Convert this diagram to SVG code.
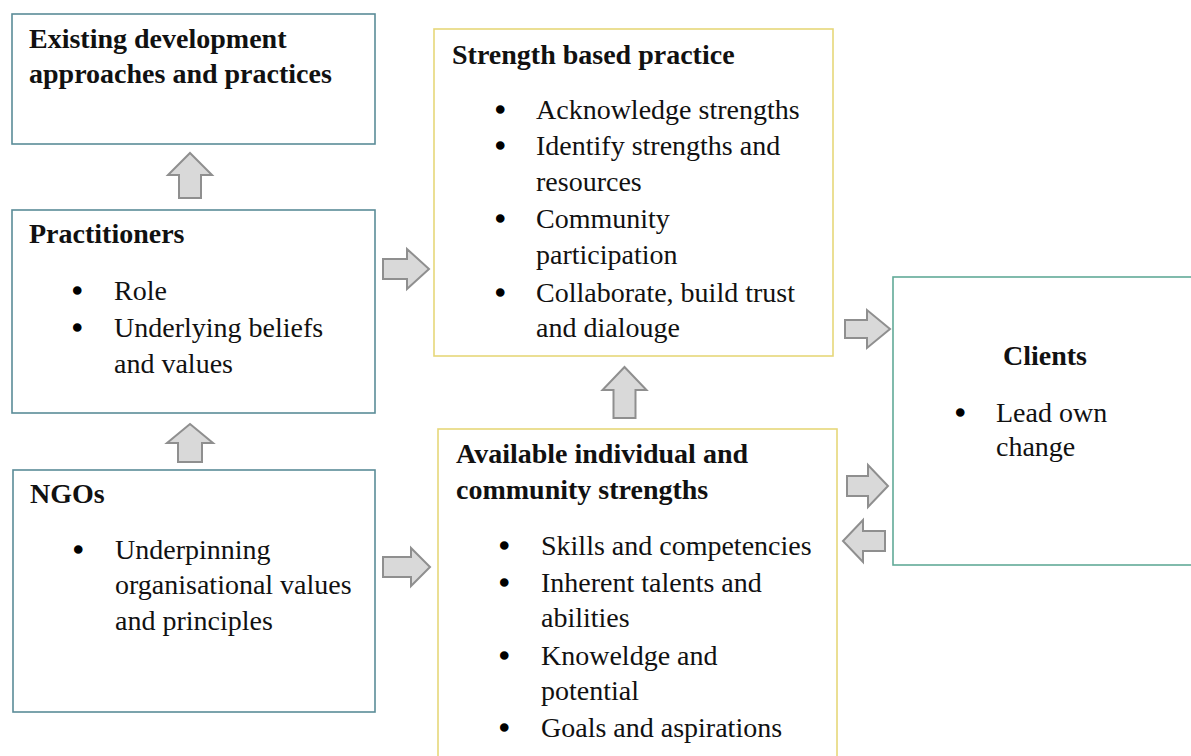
<svg xmlns="http://www.w3.org/2000/svg" width="1191" height="756" viewBox="0 0 1191 756">
  <style>
    .box { fill: #ffffff; stroke-width: 1.6; }
    .teal { stroke: #5b8c98; }
    .gold { stroke: #e6d77a; }
    .green { stroke: #62aa98; }
    .t { font-family: "Liberation Serif", "Times New Roman", serif; font-size: 28px; fill: #111; }
    .b { font-weight: bold; }
    .dot { font-family: "Liberation Serif", "Times New Roman", serif; font-size: 30px; fill: #000; stroke: #000; stroke-width: 1.4; }
    .arrow { fill: #d9d9d9; stroke: #8f8f8f; stroke-width: 2; stroke-linejoin: miter; }
  </style>
  <rect width="1191" height="756" fill="#ffffff"/>

  <g id="existing">
    <rect class="box teal" x="12" y="14" width="363" height="130"/>
    <text class="t b" x="29" y="48">Existing development</text>
    <text class="t b" x="29" y="83">approaches and practices</text>
  </g>

  <g id="practitioners">
    <rect class="box teal" x="12" y="210" width="363" height="203"/>
    <text class="t b" x="29" y="243">Practitioners</text>
    <text class="dot" x="72" y="301">•</text>
    <text class="t" x="114" y="300">Role</text>
    <text class="dot" x="72" y="338">•</text>
    <text class="t" x="114" y="337">Underlying beliefs</text>
    <text class="t" x="114" y="373">and values</text>
  </g>

  <g id="ngos">
    <rect class="box teal" x="13" y="470" width="362" height="242"/>
    <text class="t b" x="30" y="503">NGOs</text>
    <text class="dot" x="73" y="560">•</text>
    <text class="t" x="115" y="559">Underpinning</text>
    <text class="t" x="115" y="594">organisational values</text>
    <text class="t" x="115" y="630">and principles</text>
  </g>

  <g id="strength-practice">
    <rect class="box gold" x="434" y="29" width="399" height="327"/>
    <text class="t b" x="452" y="64">Strength based practice</text>
    <text class="dot" x="495" y="120">•</text>
    <text class="t" x="536" y="119">Acknowledge strengths</text>
    <text class="dot" x="495" y="156">•</text>
    <text class="t" x="536" y="155">Identify strengths and</text>
    <text class="t" x="536" y="191">resources</text>
    <text class="dot" x="495" y="229">•</text>
    <text class="t" x="536" y="228">Community</text>
    <text class="t" x="536" y="264">participation</text>
    <text class="dot" x="495" y="303">•</text>
    <text class="t" x="536" y="302">Collaborate, build trust</text>
    <text class="t" x="536" y="337">and dialouge</text>
  </g>

  <g id="community-strengths">
    <rect class="box gold" x="438" y="429" width="399" height="340"/>
    <text class="t b" x="456" y="463">Available individual and</text>
    <text class="t b" x="456" y="499">community strengths</text>
    <text class="dot" x="499" y="556">•</text>
    <text class="t" x="541" y="555">Skills and competencies</text>
    <text class="dot" x="499" y="593">•</text>
    <text class="t" x="541" y="592">Inherent talents and</text>
    <text class="t" x="541" y="627">abilities</text>
    <text class="dot" x="499" y="666">•</text>
    <text class="t" x="541" y="665">Knoweldge and</text>
    <text class="t" x="541" y="700">potential</text>
    <text class="dot" x="499" y="738">•</text>
    <text class="t" x="541" y="737">Goals and aspirations</text>
  </g>

  <g id="clients">
    <rect class="box green" x="893" y="277" width="310" height="288"/>
    <text class="t b" x="1045" y="365" text-anchor="middle">Clients</text>
    <text class="dot" x="955" y="423">•</text>
    <text class="t" x="996" y="422">Lead own</text>
    <text class="t" x="996" y="456">change</text>
  </g>

  <g id="connectors">
    <!-- upward block arrows -->
    <polygon class="arrow" points="190,153 212,175 201,175 201,198 179,198 179,175 168,175"/>
    <polygon class="arrow" points="190,424 213,443 202,443 202,462 178,462 178,443 167,443"/>
    <polygon class="arrow" points="624.5,367 646.5,390 635.5,390 635.5,418 613.5,418 613.5,390 602.5,390"/>
    <!-- rightward block arrows -->
    <polygon class="arrow" points="383,259 407,259 407,249 429,269 407,289 407,279 383,279"/>
    <polygon class="arrow" points="383,557 411,557 411,548 430,567 411,586 411,577 383,577"/>
    <polygon class="arrow" points="845,320 867,320 867,310 890,329 867,348 867,338 845,338"/>
    <polygon class="arrow" points="847,476 868,476 868,465 888,486 868,507 868,496 847,496"/>
    <!-- leftward block arrow -->
    <polygon class="arrow" points="885,531 863,531 863,520 843,541 863,562 863,551 885,551"/>
  </g>
</svg>
